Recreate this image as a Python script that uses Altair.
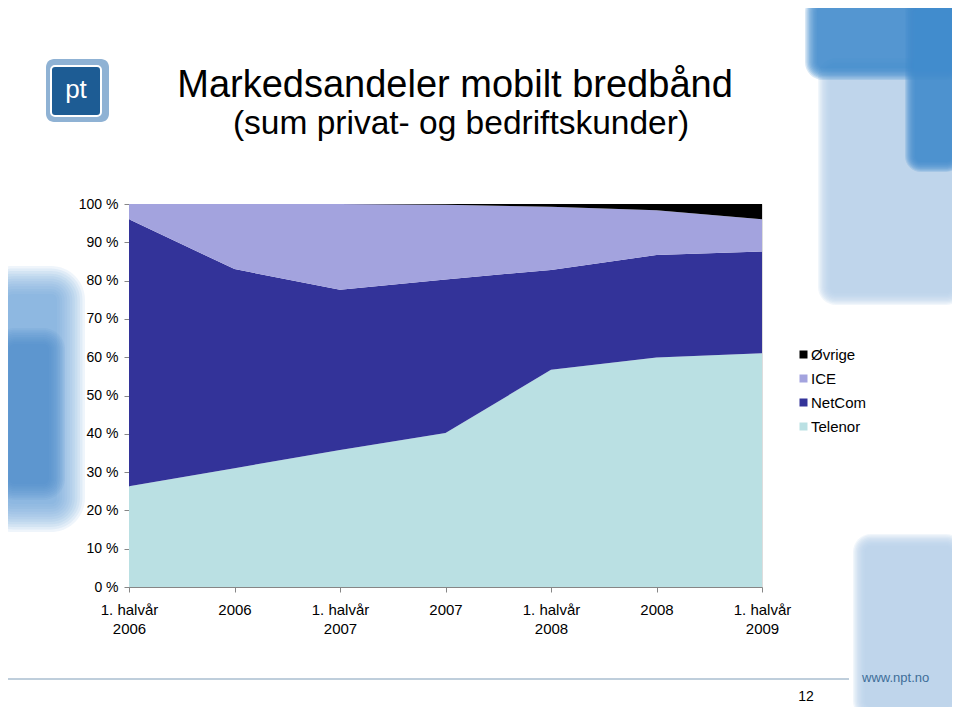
import altair as alt
import pandas as pd

categories = ["1. halvår|2006", "2006", "1. halvår|2007", "2007",
              "1. halvår|2008", "2008", "1. halvår|2009"]
series = ["Telenor", "NetCom", "ICE", "Øvrige"]
telenor = [26.3, 31.0, 35.8, 40.2, 56.7, 59.9, 61.0]
netcom = [69.7, 52.0, 41.8, 40.1, 26.1, 26.8, 26.6]
ice = [4.0, 17.0, 22.4, 19.5, 16.5, 11.7, 8.4]
ovrige = [0.0, 0.0, 0.0, 0.2, 0.7, 1.6, 4.0]

title_text = "Markedsandeler mobilt bredbånd"
subtitle_text = "(sum privat- og bedriftskunder)"

values = {"Telenor": telenor, "NetCom": netcom, "ICE": ice, "Øvrige": ovrige}
rows = []
for si, s in enumerate(series):
    for c, v in zip(categories, values[s]):
        rows.append({"periode": c, "selskap": s, "andel": v, "ord": si})
df = pd.DataFrame(rows)

colors = {"Øvrige": "#000000", "ICE": "#A3A3DE", "NetCom": "#333399", "Telenor": "#BAE0E3"}
legend_order = ["Øvrige", "ICE", "NetCom", "Telenor"]

W, H = 633, 383
FONT = "Liberation Sans"

area = alt.Chart(df).mark_area(interpolate="linear").encode(
    x=alt.X("periode:N", sort=categories, title=None,
            scale=alt.Scale(padding=0),
            axis=alt.Axis(labelAngle=0, labelExpr="split(datum.label, '|')",
                          labelFontSize=15, labelColor="#000", labelFont=FONT,
                          labelPadding=10, labelLineHeight=19,
                          domainColor="#868686", tickColor="#868686", tickSize=5,
                          grid=False)),
    y=alt.Y("andel:Q", stack="zero", title=None,
            scale=alt.Scale(domain=[0, 100], nice=False),
            axis=alt.Axis(values=list(range(0, 101, 10)),
                          labelExpr="datum.value + ' %'",
                          labelFontSize=14, labelColor="#000", labelFont=FONT,
                          labelPadding=6,
                          domainColor="#868686", tickColor="#868686", tickSize=5,
                          grid=False)),
    color=alt.Color("selskap:N",
                    scale=alt.Scale(domain=legend_order,
                                    range=[colors[k] for k in legend_order]),
                    legend=alt.Legend(title=None, orient="none", legendX=667, legendY=143,
                                      symbolType="square", symbolSize=64,
                                      symbolStrokeWidth=0,
                                      labelFontSize=15, labelFont=FONT,
                                      labelColor="#000", rowPadding=8,
                                      labelOffset=0)),
    order=alt.Order("ord:Q", sort="ascending"),
)

deco = pd.DataFrame([{"k": 1}])


def soft(x1, x2, y1, y2, color, steps=10, spread=14, op=0.15):
    """A blurred-looking block made of nested translucent rectangles."""
    out = []
    for i in range(steps):
        d = spread * (steps - 1 - i) / (steps - 1)
        out.append(alt.Chart(deco).mark_rect(color=color, opacity=op,
                                             cornerRadius=6 + d).encode(
            x=alt.value(x1 - d), x2=alt.value(x2 + d),
            y=alt.value(y1 - d), y2=alt.value(y2 + d)))
    return out


# background decorations of the slide template (soft blue squares), plot-relative px
bg = []
bg += soft(701, 823, -134, 89, "#B7D3EC", steps=10, spread=12, op=0.2)
bg += soft(688, 823, -198, -136, "#3F8ACB", steps=10, spread=12, op=0.2)
bg += soft(786, 823, -198, -42, "#3F8ACB", steps=10, spread=10, op=0.2)
bg += soft(736, 823, 342, 503, "#B7D3EC", steps=10, spread=12, op=0.2)
bg += soft(-122, -72, 90, 300, "#6FA6DA", steps=12, spread=28, op=0.11)
bg += soft(-120, -80, 140, 280, "#3F8ACB", steps=10, spread=16, op=0.09)

logo_outer = alt.Chart(deco).mark_rect(color="#8FB2D4", cornerRadius=8).encode(
    x=alt.value(-83), x2=alt.value(-20), y=alt.value(-145), y2=alt.value(-82))
logo_inner = alt.Chart(deco).mark_rect(color="#1D5C94", stroke="#FFFFFF", strokeWidth=2,
                                       cornerRadius=4).encode(
    x=alt.value(-78), x2=alt.value(-28), y=alt.value(-138), y2=alt.value(-88))
logo_text = alt.Chart(deco).mark_text(text="pt", color="#FFFFFF", fontSize=26,
                                      font=FONT, baseline="middle", align="center").encode(
    x=alt.value(-53), y=alt.value(-114))

title_mark = alt.Chart(deco).mark_text(text=title_text, color="#000000", fontSize=38,
                                       font=FONT, align="center", baseline="alphabetic").encode(
    x=alt.value(326), y=alt.value(-107))
subtitle_mark = alt.Chart(deco).mark_text(text=subtitle_text, color="#000000", fontSize=33.5,
                                          font=FONT, align="center", baseline="alphabetic").encode(
    x=alt.value(332), y=alt.value(-70))

bottom_line = alt.Chart(deco).mark_rule(color="#7F9DB8", strokeWidth=1).encode(
    x=alt.value(-129), x2=alt.value(720), y=alt.value(92 + H))
www_text = alt.Chart(deco).mark_text(text="www.npt.no", color="#3E6E99", fontSize=13,
                                     font=FONT, align="left", baseline="middle").encode(
    x=alt.value(733), y=alt.value(91 + H))
page_text = alt.Chart(deco).mark_text(text="12", color="#000000", fontSize=14,
                                      font=FONT, align="center", baseline="middle").encode(
    x=alt.value(677), y=alt.value(110 + H))

chart = alt.layer(
    *bg, area, logo_outer, logo_inner, logo_text, title_mark, subtitle_mark,
    bottom_line, www_text, page_text
).properties(
    width=W, height=H,
    autosize=alt.AutoSizeParams(type="none"),
    padding={"left": 121, "top": 196, "right": 190, "bottom": 120},
).configure_view(stroke=None).configure(background="#FFFFFF")

chart.save("out.html", embed_options={"renderer": "svg", "actions": False})
